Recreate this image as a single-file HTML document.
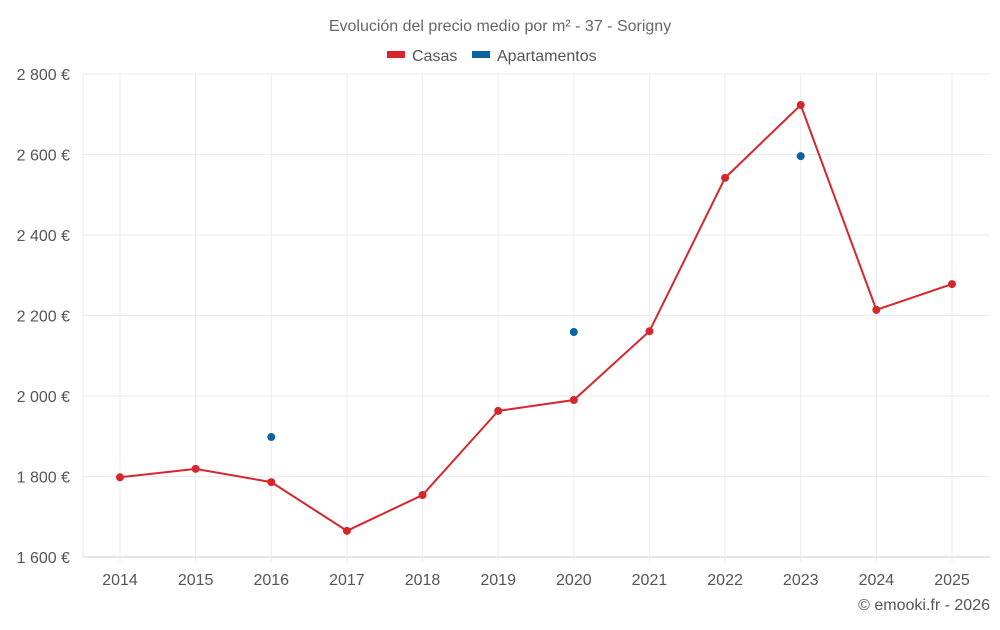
<!DOCTYPE html>
<html><head><meta charset="utf-8"><style>
body{margin:0;background:#fff;font-family:"Liberation Sans",sans-serif;}
svg text{font-family:"Liberation Sans",sans-serif;}
</style></head><body>
<svg id="chart" width="1000" height="625" xmlns="http://www.w3.org/2000/svg">
<text x="500" y="31" text-anchor="middle" font-size="16" fill="#666">Evolución del precio medio por m² - 37 - Sorigny</text>
<g><rect x="387" y="51" width="18" height="7" fill="#d7262b"/><text x="412" y="61" font-size="16" fill="#555">Casas</text></g>
<g><rect x="472" y="51" width="18" height="7" fill="#0b64a0"/><text x="497" y="61" font-size="16" fill="#555">Apartamentos</text></g>
<g id="grid"></g><g id="axes"></g><g id="series"></g>
<text x="990" y="610" text-anchor="end" font-size="16" fill="#555">© emooki.fr - 2026</text>
</svg>
<script>
const years=[2014,2015,2016,2017,2018,2019,2020,2021,2022,2023,2024,2025];
const casas=[1798,1819,1786,1665,1754,1963,1990,2161,2542,2723,2214,2278];
const apartamentos=[null,null,1898,null,null,null,2159,null,null,2596,null,null];
const yTicks=[1600,1800,2000,2200,2400,2600,2800];
const yLabels=["1 600 €","1 800 €","2 000 €","2 200 €","2 400 €","2 600 €","2 800 €"];
const L=83,R=990,T=74,B=557,yMin=1600,yMax=2800;
const x=i=>120+i*(952-120)/(years.length-1);
const y=v=>B-(v-yMin)/(yMax-yMin)*(B-T);
const NS="http://www.w3.org/2000/svg";
function mk(p,t,a){const e=document.createElementNS(NS,t);for(const k in a)e.setAttribute(k,a[k]);p.appendChild(e);return e;}
const g=document.getElementById('grid'),ax=document.getElementById('axes'),s=document.getElementById('series');
yTicks.forEach((v,i)=>{
 const ln=mk(g,'line',{x1:L,x2:R,y1:y(v),y2:y(v),stroke:i==0?'#ccc':'#ebebeb'});
 
 
 const t=mk(ax,'text',{x:70,y:y(v)+6,'text-anchor':'end','font-size':16,fill:'#555'});t.textContent=yLabels[i];
 
 
});
mk(g,'line',{x1:L,x2:L,y1:T,y2:B,stroke:'#ebebeb'});
years.forEach((yr,i)=>{
 const ln=mk(g,'line',{x1:x(i),x2:x(i),y1:T,y2:B+5,stroke:'#ebebeb'});
 
 
 const t=mk(ax,'text',{x:x(i),y:585,'text-anchor':'middle','font-size':16,fill:'#555'});t.textContent=yr;
 
 
});
const line=mk(s,'polyline',{points:casas.map((v,i)=>x(i)+','+y(v)).join(' '),fill:'none',stroke:'#d7262b','stroke-width':2});


casas.forEach((v,i)=>{const c=mk(s,'circle',{cx:x(i),cy:y(v),r:4,fill:'#d7262b'});
 
 });
apartamentos.forEach((v,i)=>{if(v==null)return;const c=mk(s,'circle',{cx:x(i),cy:y(v),r:4,fill:'#0b64a0'});
 
 });
</script>
</body></html>
